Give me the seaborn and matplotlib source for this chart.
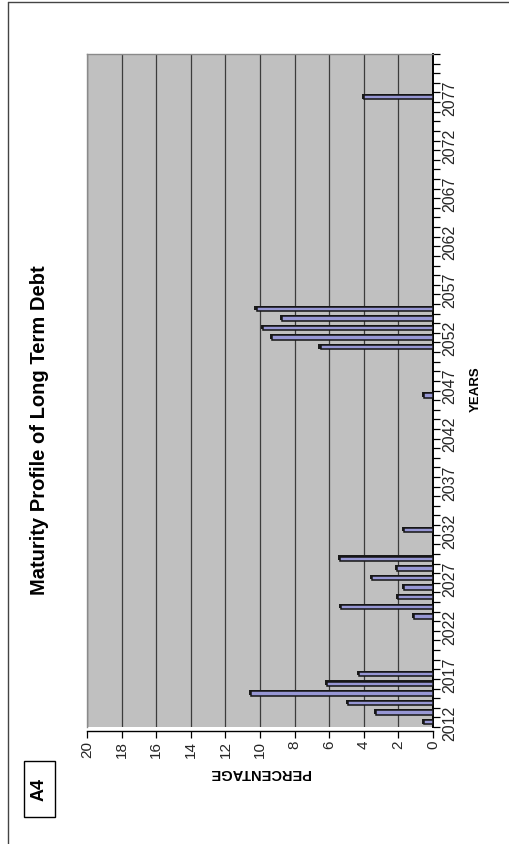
import numpy as np
import pandas as pd
import matplotlib
matplotlib.use("Agg")
import matplotlib.pyplot as plt
from matplotlib.lines import Line2D
from matplotlib.patches import Rectangle
import seaborn as sns

# Maturity years and share of long term debt maturing in each (percent)
years = [2012, 2013, 2014, 2015, 2016, 2017,
         2023, 2024, 2025, 2026, 2027, 2028, 2029, 2032,
         2046, 2051, 2052, 2053, 2054, 2055, 2077]
pct = [0.5, 3.3, 4.9, 10.5, 6.1, 4.3,
       1.1, 5.3, 2.0, 1.7, 3.5, 2.1, 5.4, 1.7,
       0.5, 6.5, 9.3, 9.8, 8.7, 10.2, 4.0]

year_first, year_last = 2012, 2081
year_labels = list(range(2012, 2078, 5))
pct_ticks = list(range(0, 21, 2))

title = "Maturity Profile of Long Term Debt"
x_title = "YEARS"
y_title = "PERCENTAGE"
tag = "A4"

df = pd.DataFrame({"year": years, "pct": pct})

sns.set_theme(style="white")
plt.rcParams["font.family"] = ["Liberation Sans", "DejaVu Sans"]

W, H = 509, 845
fig = plt.figure(figsize=(W / 100, H / 100), dpi=100)
fig.patch.set_facecolor("white")

# page is turned on its side: years run upward, percentage runs right-to-left
ax = fig.add_axes([87 / W, 1 - 728 / H, (433 - 87) / W, (728 - 55) / H])
ax.set_facecolor("#C0C0C0")
ax.set_axisbelow(True)

# dark depth face behind each bar
ax.barh(df["year"] + 0.1, df["pct"] + 0.12, height=0.48,
        color="#1a1a1a", linewidth=0, zorder=2)
sns.barplot(data=df, x="pct", y="year", orient="h", native_scale=True,
            width=0.46, color="#9797D4", saturation=1, edgecolor="#151515",
            linewidth=1.1, errorbar=None, ax=ax, zorder=3)

ax.set_xlim(20, 0)
ax.set_ylim(year_first - 0.5, year_last + 0.5)
ax.set_xlabel("")
ax.set_ylabel("")

# value axis along the bottom
ax.set_xticks(pct_ticks)
ax.set_xticklabels([str(v) for v in pct_ticks], fontsize=11, color="black")
ax.tick_params(axis="x", direction="out", length=5, width=0.9,
               color="black", pad=1, bottom=True, labelrotation=90)
for lab in ax.get_xticklabels():
    lab.set_verticalalignment("top")
    lab.set_horizontalalignment("center")

# year axis along the right, ticks between categories
ax.yaxis.tick_right()
ax.set_yticks(np.arange(year_first - 0.5, year_last + 1.0, 1.0))
ax.set_yticklabels([])
ax.tick_params(axis="y", which="major", direction="out", length=5,
               width=0.9, color="black", right=True, left=False)
ax.set_yticks(year_labels, minor=True)
ax.set_yticklabels([str(y) for y in year_labels], minor=True, rotation=90,
                   fontsize=11.5, va="center", ha="left")
ax.tick_params(axis="y", which="minor", length=0, pad=7, right=True,
               left=False, labelright=True, labelleft=False)

ax.grid(axis="x", color="#3c3c3c", linewidth=0.9)
ax.grid(axis="y", visible=False)

for side in ("left", "top"):
    ax.spines[side].set_color("#8a8a8a")
    ax.spines[side].set_linewidth(1.0)
ax.spines["right"].set_color("black")
ax.spines["right"].set_linewidth(1.4)
ax.spines["bottom"].set_color("black")
ax.spines["bottom"].set_linewidth(1.0)
ax.spines["bottom"].set_position(("outward", 3))

# titles
fig.text(40 / W, 1 - 430 / H, title, rotation=90, ha="center", va="center",
         fontsize=14.5, fontweight="bold", color="black")
fig.text(476 / W, 1 - 389 / H, x_title, rotation=90, ha="center",
         va="center", fontsize=9.5, fontweight="bold", color="black")
fig.text(260 / W, 1 - 773 / H, y_title, rotation=180, ha="center",
         va="center", fontsize=10.5, fontweight="bold", color="black")

# boxed page tag
fig.add_artist(Rectangle((24 / W, 1 - 818 / H), 31 / W, 56 / H,
                         transform=fig.transFigure, fill=False,
                         edgecolor="black", linewidth=1.0))
fig.text(39.5 / W, 1 - 790 / H, tag, rotation=90, ha="center", va="center",
         fontsize=13, fontweight="bold", color="black")

# outer page frame
fig.add_artist(Line2D([8 / W, 8 / W], [0, 1 - 3 / H],
                      transform=fig.transFigure, color="#444444", lw=1.0))
fig.add_artist(Line2D([8 / W, 1], [1 - 3 / H, 1 - 3 / H],
                      transform=fig.transFigure, color="#444444", lw=1.0))

fig.savefig("out.png", dpi=100, facecolor="white")
